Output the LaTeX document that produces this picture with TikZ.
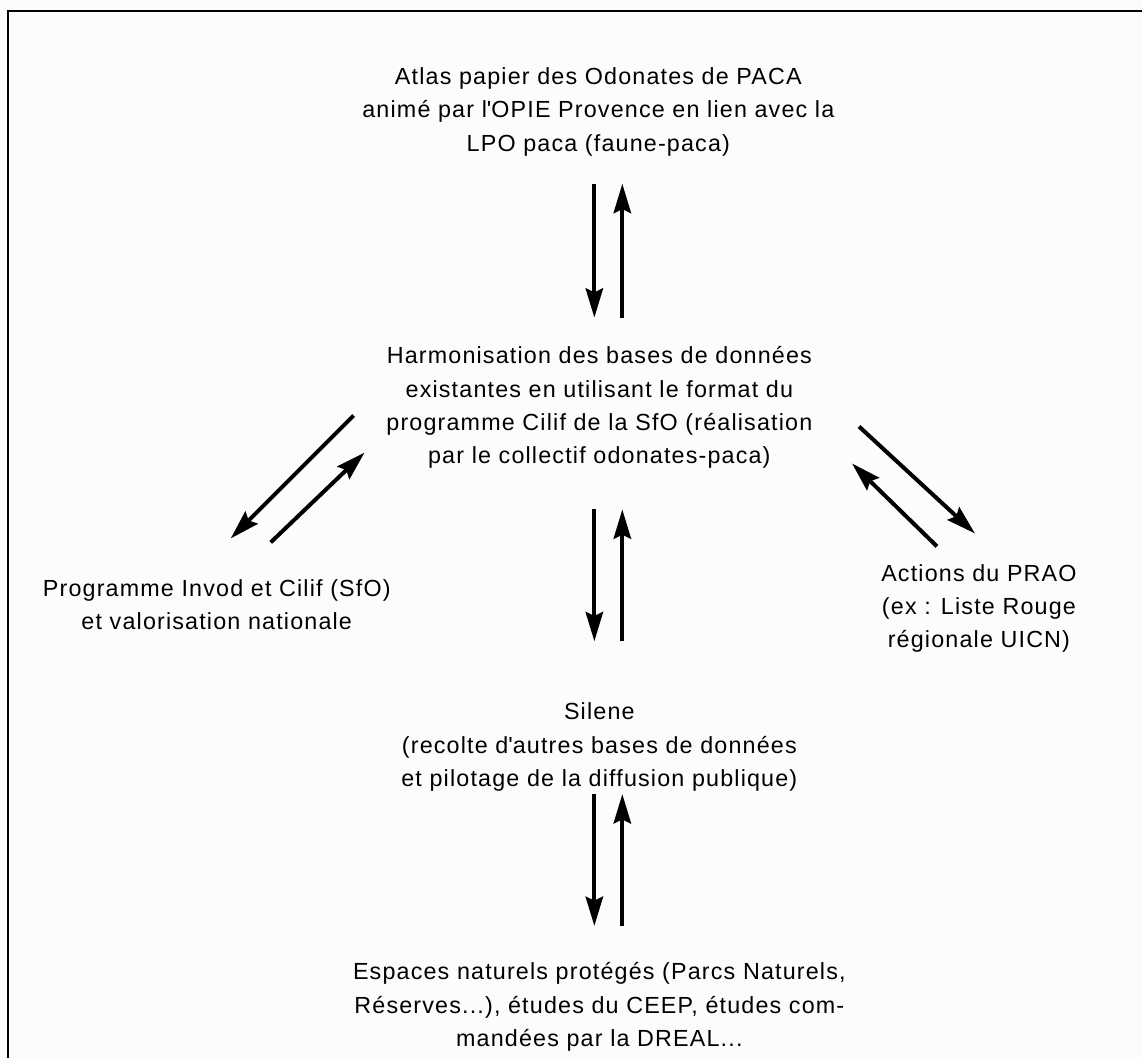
\documentclass[tikz,border=0pt]{standalone}
\usepackage{fontspec}
\setmainfont[LetterSpace=5]{Liberation Sans}
\usetikzlibrary{arrows.meta}

\definecolor{pagebg}{HTML}{FCFCFC}

\begin{document}
\begin{tikzpicture}
        [x=0.75pt, y=-0.75pt, >={Stealth[length=22pt,width=13pt,inset=3pt]},
         flow/.style={->, line width=3pt},
         txt/.style={align=center, inner sep=0pt, font=\fontsize{17.5}{25}\selectfont}]
        \fill[pagebg] (0,0) rectangle (1143,1059);
        \draw[line width=1.9pt] (8,1059) -- (8,11) -- (1143,11);

        \node[txt] (atlas) at (599, 112) {Atlas papier des Odonates de PACA\\anim\'e par l\textquotesingle OPIE Provence en lien avec la\\LPO paca (faune-paca)};
        \node[txt] (harmo) at (600, 408) {Harmonisation des bases de données\\existantes en utilisant le format du\\programme Cilif de la SfO (réalisation\\par le collectif odonates-paca)};
        \node[txt] (invod) at (217, 605) {Programme Invod et Cilif (SfO)\\et valorisation nationale};
        \node[txt] (prao) at (980, 609) {Actions du PRAO\\(ex : Liste Rouge\\régionale UICN)};
        \node[txt] (silene) at (600, 748) {Silene\\(recolte d\textquotesingle autres bases de données\\et pilotage de la diffusion publique)};
        \node[txt] (espaces) at (600, 1008) {Espaces naturels protégés (Parcs Naturels,\\Réserves...), études du CEEP, études com-\\mandées par la DREAL...};

        % ends of the arrows
        \coordinate (atlasS1) at (595, 184);
        \coordinate (atlasS2) at (623, 184);
        \coordinate (harmoN1) at (595, 318);
        \coordinate (harmoN2) at (623, 318);
        \coordinate (harmoS1) at (595, 510);
        \coordinate (harmoS2) at (623, 510);
        \coordinate (sileneN1) at (595, 642);
        \coordinate (sileneN2) at (623, 642);
        \coordinate (sileneS1) at (595, 795);
        \coordinate (sileneS2) at (623, 795);
        \coordinate (espacesN1) at (595, 927);
        \coordinate (espacesN2) at (623, 927);
        \coordinate (harmoW1) at (354, 416);
        \coordinate (harmoW2) at (365, 453);
        \coordinate (invodE1) at (231, 539);
        \coordinate (invodE2) at (271, 543);
        \coordinate (harmoE1) at (860, 427);
        \coordinate (harmoE2) at (853, 464);
        \coordinate (praoW1) at (976, 534);
        \coordinate (praoW2) at (938, 547);

        \draw[flow] (atlasS1) -- (harmoN1);
        \draw[flow] (harmoN2) -- (atlasS2);
        \draw[flow] (harmoS1) -- (sileneN1);
        \draw[flow] (sileneN2) -- (harmoS2);
        \draw[flow] (sileneS1) -- (espacesN1);
        \draw[flow] (espacesN2) -- (sileneS2);
        \draw[flow] (harmoW1) -- (invodE1);
        \draw[flow] (invodE2) -- (harmoW2);
        \draw[flow] (harmoE1) -- (praoW1);
        \draw[flow] (praoW2) -- (harmoE2);
\end{tikzpicture}
\end{document}
